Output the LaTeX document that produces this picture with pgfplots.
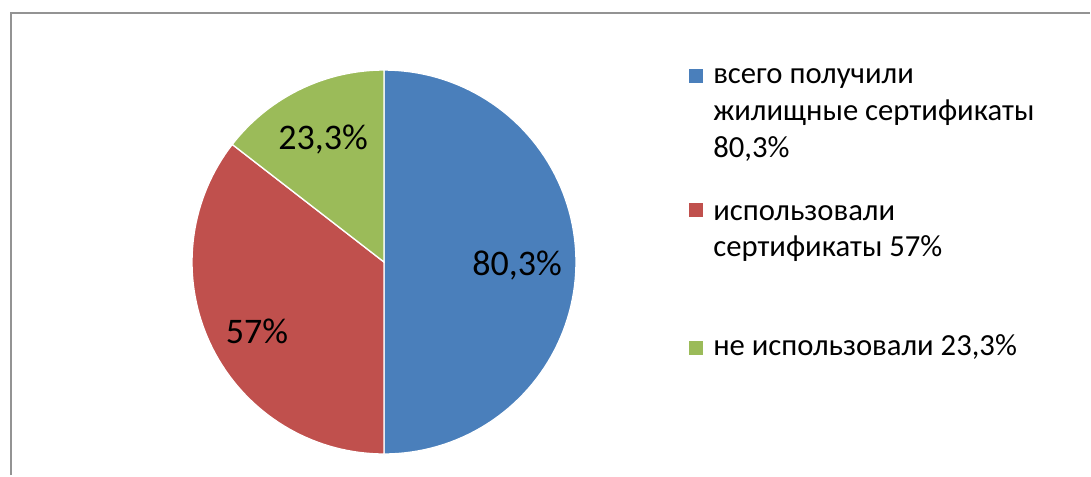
\documentclass[border=0pt]{standalone}
\usepackage{pgfplots}
\pgfplotsset{compat=1.18}
\usepackage{fontspec}
\setmainfont{Carlito}
\definecolor{pblue}{HTML}{4A7FBB}
\definecolor{pred}{HTML}{C0504D}
\definecolor{pgreen}{HTML}{9BBB59}
% values (percent)
\def\vA{80.3}
\def\vB{57}
\def\vC{23.3}
\begin{document}
\begin{tikzpicture}[x=0.75pt,y=0.75pt]
\pgfmathsetmacro{\tot}{\vA+\vB+\vC}
\pgfmathsetmacro{\aA}{90-\vA/\tot*360}
\pgfmathsetmacro{\aB}{\aA-\vB/\tot*360}
\pgfmathsetmacro{\aC}{\aB-\vC/\tot*360}
\begin{axis}[
  scale only axis, width=818.25pt, height=356.25pt,
  xmin=0, xmax=1091, ymin=0, ymax=475, y dir=reverse,
  hide axis, clip=false]
\path (axis cs:0,0) rectangle (axis cs:1091,475);
% frame
\draw[gray!85, line width=1.5pt] (axis cs:11,475) -- (axis cs:11,13) -- (axis cs:1090,13);
% wedges
\addplot[fill=pblue, draw=white, line width=1pt, domain=90:\aA, samples=90, variable=\t]
  ({384+192*cos(\t)}, {262-192*sin(\t)}) -- (axis cs:384,262) -- cycle;
\addplot[fill=pred, draw=white, line width=1pt, domain=\aA:\aB, samples=70, variable=\t]
  ({384+192*cos(\t)}, {262-192*sin(\t)}) -- (axis cs:384,262) -- cycle;
\addplot[fill=pgreen, draw=white, line width=1pt, domain=\aB:\aC, samples=40, variable=\t]
  ({384+192*cos(\t)}, {262-192*sin(\t)}) -- (axis cs:384,262) -- cycle;
% data labels
\begin{scope}[every node/.style={anchor=base, inner sep=0pt, font=\fontsize{27}{30}\selectfont}]
\node at (axis cs:517,275) {80,3\%};
\node at (axis cs:257,343) {57\%};
\node at (axis cs:323,149) {23,3\%};
\end{scope}
% legend
\addplot[only marks, mark=square*, mark size=4.8pt, mark options={draw=pblue, fill=pblue}] coordinates {(696,76)};
\addplot[only marks, mark=square*, mark size=4.8pt, mark options={draw=pred, fill=pred}] coordinates {(696,210)};
\addplot[only marks, mark=square*, mark size=4.8pt, mark options={draw=pgreen, fill=pgreen}] coordinates {(696,348)};
\begin{scope}[every node/.style={anchor=base west, inner sep=0pt, font=\fontsize{23}{28}\selectfont}]
\node at (axis cs:713,83) {всего получили};
\node at (axis cs:713,120.5) {жилищные сертификаты};
\node at (axis cs:713,157.5) {80,3\%};
\node at (axis cs:713,220.5) {использовали};
\node at (axis cs:713,256) {сертификаты 57\%};
\node at (axis cs:713,355) {не использовали 23,3\%};
\end{scope}
\end{axis}
\end{tikzpicture}
\end{document}
